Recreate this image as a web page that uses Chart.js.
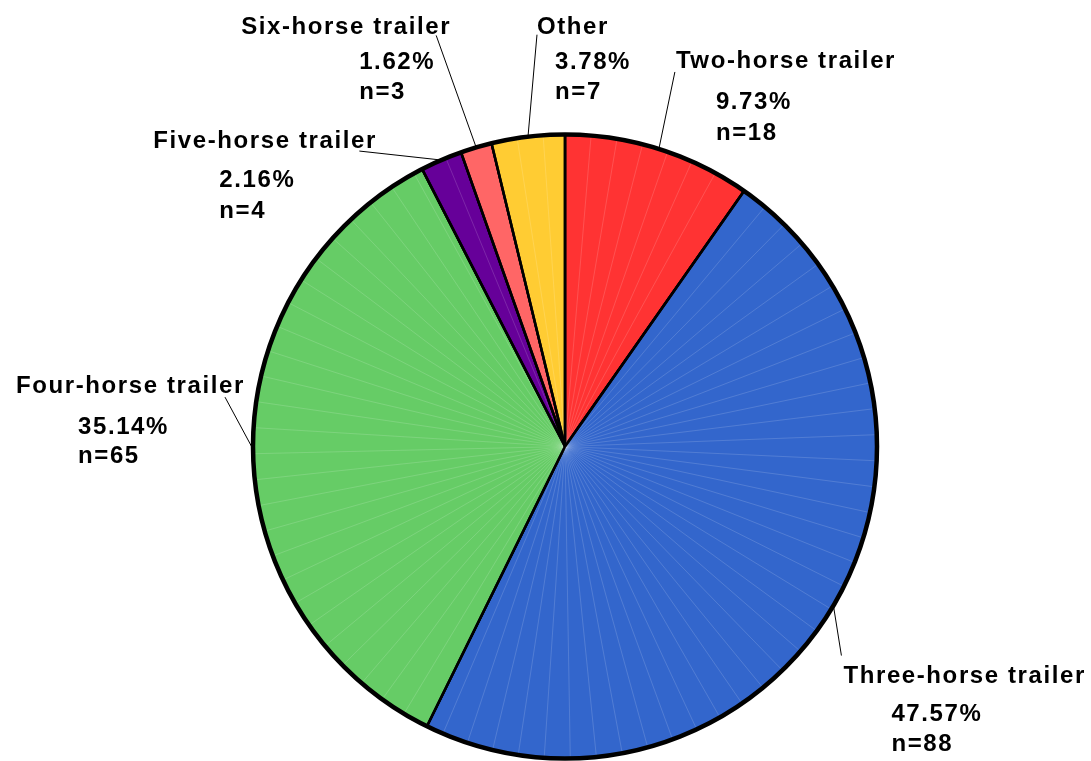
<!DOCTYPE html>
<html>
<head>
<meta charset="utf-8">
<script src="https://cdn.jsdelivr.net/npm/chart.js@4/dist/chart.umd.min.js"></script>
<style>
    html, body { margin: 0; padding: 0; background: #fff; }
    #wrap { width: 1091px; height: 761px; }
</style>
</head>
<body>
<div id="wrap"><canvas id="pieChart"></canvas></div>
<script>
// trailer types, clockwise from 12 o'clock
const categories = ["Two-horse trailer", "Three-horse trailer", "Four-horse trailer",
    "Five-horse trailer", "Six-horse trailer", "Other"];
const counts = [18, 88, 65, 4, 3, 7];
const sliceColors = ["#FF3333", "#3366CC", "#66CC66", "#660099", "#FF6666", "#FFCC33"];

// where each label sits: leader end relative to the rim point, then text lines relative to leader end
const labelLayout = [
    { lx: 16, ly: -77, tx: 1, ty: -4, px: 41, py: 37, ny: 68 },
    { lx: 8, ly: 50, tx: 2, ty: 27, px: 50, py: 65, ny: 95 },
    { lx: -28, ly: -52, tx: -209, ty: -4, px: -147, py: 37, ny: 66 },
    { lx: -82, ly: -9, tx: -206, ty: -3, px: -140, py: 36, ny: 67 },
    { lx: -40, ly: -112, tx: -195, ty: -1, px: -77, py: 34, ny: 64 },
    { lx: 9, ly: -102, tx: 0, ty: -1, px: 18, py: 34, ny: 64 }
];

const total = counts.reduce((a, b) => a + b, 0);

const pieLabels = {
    id: "pieLabels",
    afterDatasetsDraw(chart) {
        const ctx = chart.ctx;
        const arcs = chart.getDatasetMeta(0).data;
        ctx.save();

        // faint seams inside the slices
        ctx.strokeStyle = "rgba(255,255,255,0.15)";
        ctx.lineWidth = 1;
        arcs.forEach(arc => {
            const step = 4.8 * Math.PI / 180;
            for (let a = arc.startAngle + step; a < arc.endAngle - step / 3; a += step) {
                ctx.beginPath();
                ctx.moveTo(arc.x, arc.y);
                ctx.lineTo(arc.x + Math.cos(a) * (arc.outerRadius - 2), arc.y + Math.sin(a) * (arc.outerRadius - 2));
                ctx.stroke();
            }
        });

        // slice edges again over the seams
        ctx.strokeStyle = "#000";
        ctx.lineWidth = 2.5;
        arcs.forEach(arc => {
            ctx.beginPath();
            ctx.moveTo(arc.x, arc.y);
            ctx.lineTo(arc.x + Math.cos(arc.startAngle) * arc.outerRadius, arc.y + Math.sin(arc.startAngle) * arc.outerRadius);
            ctx.stroke();
        });

        // thick outline
        const first = arcs[0];
        ctx.lineWidth = 4.5;
        ctx.beginPath();
        ctx.arc(first.x, first.y, first.outerRadius, 0, Math.PI * 2);
        ctx.stroke();

        ctx.font = 'bold 24px "Liberation Sans", Arial, sans-serif';
        ctx.letterSpacing = "1.6px";
        ctx.fillStyle = "#000";
        ctx.textAlign = "left";
        ctx.textBaseline = "alphabetic";

        arcs.forEach((arc, i) => {
            const mid = (arc.startAngle + arc.endAngle) / 2;
            const rx = arc.x + Math.cos(mid) * arc.outerRadius;
            const ry = arc.y + Math.sin(mid) * arc.outerRadius;
            const L = labelLayout[i];
            const ex = rx + L.lx;
            const ey = ry + L.ly;

            ctx.lineWidth = 1;
            ctx.beginPath();
            ctx.moveTo(rx, ry);
            ctx.lineTo(ex, ey);
            ctx.stroke();

            const pct = (counts[i] / total * 100).toFixed(2) + "%";
            ctx.fillText(categories[i], ex + L.tx, ey + L.ty);
            ctx.fillText(pct, ex + L.px, ey + L.py);
            ctx.fillText("n=" + counts[i], ex + L.px, ey + L.ny);
        });
        ctx.restore();
    }
};

new Chart(document.getElementById("pieChart"), {
    type: "pie",
    data: {
        labels: categories,
        datasets: [{
            data: counts,
            backgroundColor: sliceColors,
            borderColor: "#000",
            borderWidth: 2.5
        }]
    },
    options: {
        responsive: true,
        maintainAspectRatio: false,
        animation: false,
        radius: 312,
        layout: { padding: { left: 39, right: 0, top: 132, bottom: 0 } },
        plugins: {
            legend: { display: false },
            tooltip: { enabled: false }
        }
    },
    plugins: [pieLabels]
});
</script>
</body>
</html>
